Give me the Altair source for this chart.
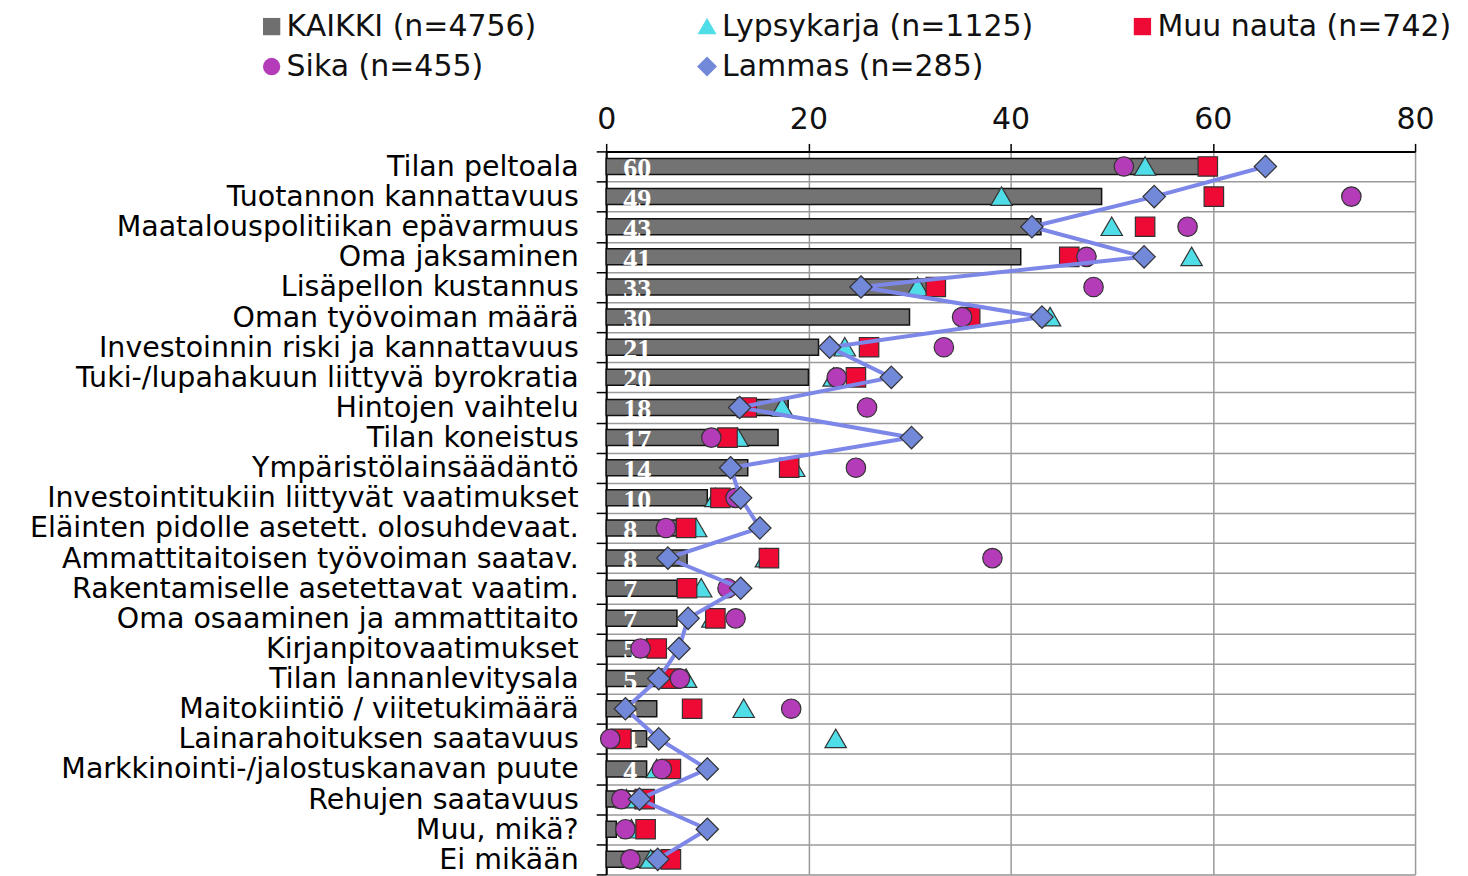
import altair as alt
import pandas as pd

categories = [
    "Tilan peltoala", "Tuotannon kannattavuus", "Maatalouspolitiikan epävarmuus",
    "Oma jaksaminen", "Lisäpellon kustannus", "Oman työvoiman määrä",
    "Investoinnin riski ja kannattavuus", "Tuki-/lupahakuun liittyvä byrokratia",
    "Hintojen vaihtelu", "Tilan koneistus", "Ympäristölainsäädäntö",
    "Investointitukiin liittyvät vaatimukset", "Eläinten pidolle asetett. olosuhdevaat.",
    "Ammattitaitoisen työvoiman saatav.", "Rakentamiselle asetettavat vaatim.",
    "Oma osaaminen ja ammattitaito", "Kirjanpitovaatimukset", "Tilan lannanlevitysala",
    "Maitokiintiö / viitetukimäärä", "Lainarahoituksen saatavuus",
    "Markkinointi-/jalostuskanavan puute", "Rehujen saatavuus", "Muu, mikä?", "Ei mikään",
]

kaikki = [60, 49, 43, 41, 33, 30, 21, 20, 18, 17, 14, 10, 8, 8, 7, 7, 5, 5, 5, 4, 4, 3, 1, 7]
lypsykarja = [53.3, 39.1, 50.0, 57.9, 30.8, 43.9, 23.6, 22.5, 17.4, 13.0, 18.6, 10.8,
              8.9, 15.8, 9.4, 10.5, 4.0, 7.9, 13.6, 22.7, 5.0, 2.0, 2.5, 4.4]
muu_nauta = [59.5, 60.1, 53.3, 45.8, 32.6, 36.0, 26.0, 24.7, 13.9, 12.0, 18.1, 11.3,
             7.9, 16.1, 8.0, 10.8, 5.0, 6.4, 8.5, 1.5, 6.4, 3.8, 3.9, 6.4]
sika = [51.2, 73.7, 57.5, 47.5, 48.2, 35.2, 33.4, 22.8, 25.8, 10.4, 24.7, 12.8,
        5.9, 38.2, 12.0, 12.8, 3.4, 7.3, 18.3, 0.4, 5.5, 1.5, 1.9, 2.4]
lammas = [65.2, 54.2, 42.1, 53.2, 25.2, 43.1, 22.1, 28.2, 13.2, 30.2, 12.3, 13.3,
          15.2, 6.1, 13.3, 8.1, 7.2, 5.2, 1.9, 5.2, 10.0, 3.3, 10.0, 5.1]

series_names = ["KAIKKI  (n=4756)", "Lypsykarja (n=1125)", "Muu nauta (n=742)",
                "Sika (n=455)", "Lammas   (n=285)"]
TRI = "M0,-1L1.1,0.9L-1.1,0.9Z"
SQ = "M-1,-1L1,-1L1,1L-1,1Z"
DIA = "M0,-1.15L1.15,0L0,1.15L-1.15,0Z"
series_shapes = [SQ, TRI, SQ, "circle", DIA]
series_fills = ["#6f6f6f", "#4fdde8", "#ee0a35", "#b43cb8", "#7288d8"]

rows = []
for name, vals in zip(series_names, [kaikki, lypsykarja, muu_nauta, sika, lammas]):
    for i, (c, v) in enumerate(zip(categories, vals)):
        rows.append({"series": name, "category": c, "value": v, "idx": i})
df = pd.DataFrame(rows)

FONT = "DejaVu Sans"

y_enc = alt.Y("category:N", sort=categories, title=None,
              scale=alt.Scale(paddingInner=0, paddingOuter=0),
              axis=alt.Axis(tickBand="extent", grid=True, gridColor="#9a9a9a", gridWidth=1.5,
                            domainColor="#000", domainWidth=2, tickColor="#000", tickWidth=1.5,
                            tickSize=10, labelFont=FONT, labelFontSize=28.5, labelColor="#000",
                            labelPadding=18, labelLimit=700))
x_enc = alt.X("value:Q", title=None,
              scale=alt.Scale(domain=[0, 80], nice=False),
              axis=alt.Axis(orient="top", values=[0, 20, 40, 60, 80], grid=True,
                            gridColor="#9a9a9a", gridWidth=1.5, domainColor="#000",
                            domainWidth=2, tickColor="#000", tickWidth=1.5, tickSize=8,
                            labelFont=FONT, labelFontSize=30, labelColor="#111",
                            labelPadding=9, labelFlush=False))

shape_scale = alt.Scale(domain=series_names, range=series_shapes)
fill_scale = alt.Scale(domain=series_names, range=series_fills)
legend = alt.Legend(title=None, orient="none", direction="horizontal", legendX=-350,
                    legendY=-140, columns=3, gridAlign="all", columnPadding=94,
                    rowPadding=10, labelFont=FONT, labelFontSize=30, labelColor="#111",
                    labelOffset=0, symbolSize=300, symbolStrokeColor="#333",
                    symbolStrokeWidth=1.2, labelLimit=600)

base = alt.Chart(df)

bars = base.transform_filter(alt.datum.series == series_names[0]).mark_bar(
    size=16, fill="#737373", stroke="#111", strokeWidth=1.5
).encode(x=x_enc, y=y_enc)

labels = base.transform_filter(alt.datum.series == series_names[0]).mark_text(
    align="left", baseline="middle", dx=17, dy=3, font="Liberation Serif",
    fontWeight="bold", fontSize=28, fill="white"
).encode(x=alt.datum(0), y=alt.Y("category:N", sort=categories),
         text=alt.Text("value:Q", format="d"))

pts = base.transform_filter(
    (alt.datum.series != series_names[0]) & (alt.datum.series != series_names[4])
).mark_point(filled=True, size=380, stroke="#333", strokeWidth=1.2, opacity=1).encode(
    x="value:Q", y=alt.Y("category:N", sort=categories),
    shape=alt.Shape("series:N", scale=shape_scale, legend=legend),
    fill=alt.Fill("series:N", scale=fill_scale, legend=legend),
)

line = base.transform_filter(alt.datum.series == series_names[4]).mark_line(
    color="#7d87e8", strokeWidth=4
).encode(x="value:Q", y=alt.Y("category:N", sort=categories), order="idx:Q")

diamonds = base.transform_filter(alt.datum.series == series_names[4]).mark_point(
    filled=True, size=380, stroke="#333", strokeWidth=1.2, opacity=1
).encode(
    x="value:Q", y=alt.Y("category:N", sort=categories),
    shape=alt.Shape("series:N", scale=shape_scale, legend=legend),
    fill=alt.Fill("series:N", scale=fill_scale, legend=legend),
)

chart = alt.layer(bars, labels, pts, line, diamonds).properties(
    width=810, height=724,
    padding={"left": 599, "top": 143, "right": 45, "bottom": 5},
    autosize=alt.AutoSizeParams(type="none"),
).configure_view(stroke=None).configure(background="white")

chart.save("out.html", embed_options={"renderer": "svg", "actions": False})
